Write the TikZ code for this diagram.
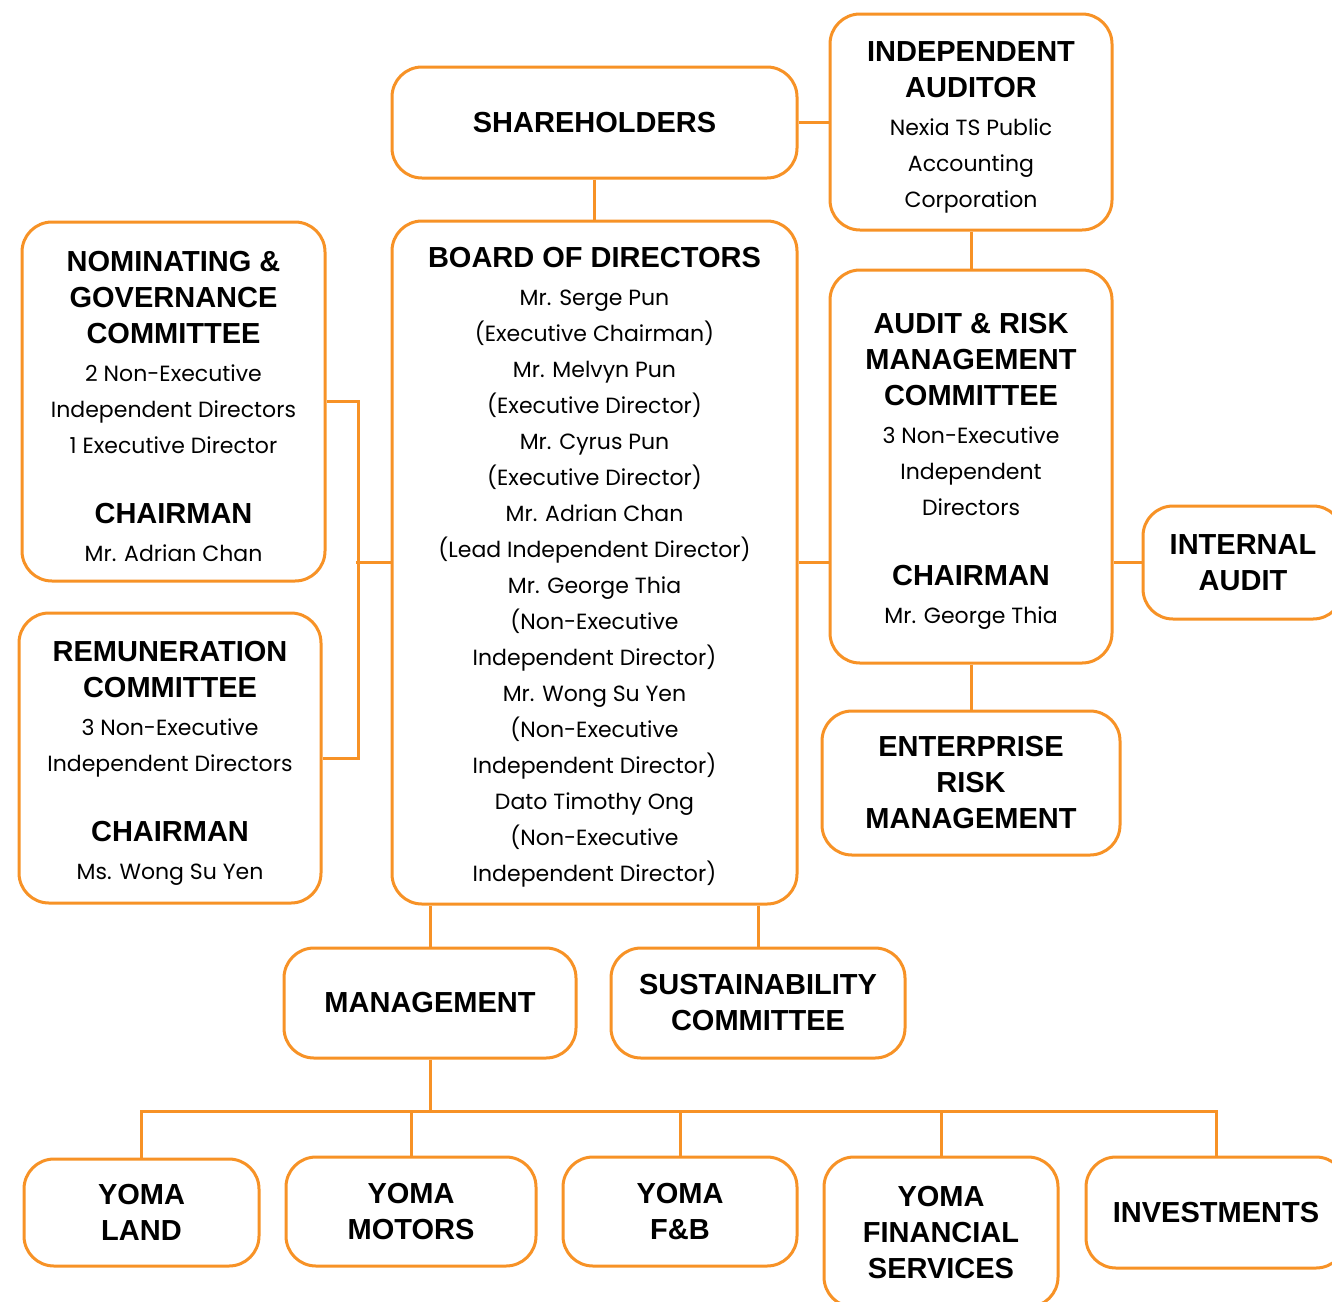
\documentclass[tikz,border=0pt]{standalone}
\usepackage{fontspec}
\setmainfont{Poppins}
\newfontfamily\headfont{Liberation Sans}
\usetikzlibrary{positioning, calc}
\definecolor{yomaorange}{RGB}{247,146,38}
\newcommand{\hd}[1]{{\headfont\bfseries\fontsize{29}{36}\selectfont #1}}
% extra room above the first line of a tall box
\newcommand{\toproom}{\rule{0pt}{30pt}}

\begin{document}
\begin{tikzpicture}[x=1pt, y=-1pt,
		box/.style={draw=yomaorange, line width=3pt, rounded corners=30pt, fill=white, align=center, inner sep=0pt, font=\fontsize{22}{36}\selectfont},
		link/.style={draw=yomaorange, line width=3pt}]
			% Page
			\clip (0,0) rectangle (1332,1301);
			\fill[white] (0,0) rectangle (1332,1301);
			
			% Top row
			\node[box, minimum width=405pt, minimum height=111pt] (sh) at (594.5,122.5) {\hd{SHAREHOLDERS}};
			\node[box, minimum width=282pt, minimum height=216pt] (ia) at (971,122) {\toproom\hd{INDEPENDENT}\\ \hd{AUDITOR}\\[2pt] Nexia TS Public\\ Accounting\\ Corporation};
			
			% Board and committees
			\node[box, minimum width=405pt, minimum height=683pt] (board) at (594.5,562.5) {\toproom\hd{BOARD OF DIRECTORS}\\[2pt]
				Mr. Serge Pun\\ (Executive Chairman)\\
				Mr. Melvyn Pun\\ (Executive Director)\\
				Mr. Cyrus Pun\\ (Executive Director)\\
				Mr. Adrian Chan\\ (Lead Independent Director)\\
				Mr. George Thia\\ (Non-Executive\\ Independent Director)\\
				Mr. Wong Su Yen\\ (Non-Executive\\ Independent Director)\\
				Dato Timothy Ong\\ (Non-Executive\\ Independent Director)};
			\node[box, minimum width=303pt, minimum height=359pt] (nom) at (173.5,401.5) {\toproom\hd{NOMINATING \&}\\ \hd{GOVERNANCE}\\ \hd{COMMITTEE}\\[2pt]
				2 Non-Executive\\ Independent Directors\\ 1 Executive Director\\[34pt]
				\hd{CHAIRMAN}\\[2pt] Mr. Adrian Chan};
			\node[box, minimum width=302pt, minimum height=290pt] (rem) at (170,758) {\toproom\hd{REMUNERATION}\\ \hd{COMMITTEE}\\[2pt]
				3 Non-Executive\\ Independent Directors\\[34pt]
				\hd{CHAIRMAN}\\[2pt] Ms. Wong Su Yen};
			\node[box, minimum width=282pt, minimum height=393pt] (arm) at (971,466.5) {\toproom\hd{AUDIT \& RISK}\\ \hd{MANAGEMENT}\\ \hd{COMMITTEE}\\[2pt]
				3 Non-Executive\\ Independent\\ Directors\\[34pt]
				\hd{CHAIRMAN}\\[2pt] Mr. George Thia};
			\node[box, minimum width=200pt, minimum height=113pt] (int) at (1243,562.5) {\hd{INTERNAL}\\ \hd{AUDIT}};
			\node[box, minimum width=298pt, minimum height=144pt] (erm) at (971,783) {\hd{ENTERPRISE}\\ \hd{RISK}\\ \hd{MANAGEMENT}};
			
			% Management level
			\node[box, minimum width=292pt, minimum height=110pt] (mgmt) at (430,1003) {\hd{MANAGEMENT}};
			\node[box, minimum width=294pt, minimum height=110pt] (sust) at (758,1003) {\hd{SUSTAINABILITY}\\ \hd{COMMITTEE}};
			
			% Business units
			\node[box, minimum width=235pt, minimum height=107pt] (land) at (141.5,1212.5) {\hd{YOMA}\\ \hd{LAND}};
			\node[box, minimum width=250pt, minimum height=109pt] (motors) at (411,1211.5) {\hd{YOMA}\\ \hd{MOTORS}};
			\node[box, minimum width=234pt, minimum height=109pt] (fnb) at (680,1211.5) {\hd{YOMA}\\ \hd{F\&B}};
			\node[box, minimum width=234pt, minimum height=150pt] (fin) at (941,1232) {\hd{YOMA}\\ \hd{FINANCIAL}\\ \hd{SERVICES}};
			\node[box, minimum width=260pt, minimum height=111pt] (inv) at (1216,1212.5) {\hd{INVESTMENTS}};
			
			% Links
			\draw[link] (sh.east) -- (sh.east -| ia.west);
			\draw[link] (sh.south) -- (board.north);
			\draw[link] (ia.south) -- (arm.north);
			\draw[link] (nom.east) -- ++(32,0) |- (rem.east);
			\draw[link] (board.west) -- ++(-35,0);
			\draw[link] (board.east) -- (board.east -| arm.west);
			\draw[link] (int.west) -- (int.west -| arm.east);
			\draw[link] (arm.south) -- (erm.north);
			\draw[link] (mgmt.north) -- (mgmt.north |- board.south);
			\draw[link] (sust.north) -- (sust.north |- board.south);
			
			% Bus to the business units
			\draw[link] (mgmt.south) -- ++(0,52) coordinate (bus);
			\foreach \unit in {land, motors, fnb, fin, inv}
				\draw[link] (bus) -| (\unit.north);
			
		\end{tikzpicture}
\end{document}
